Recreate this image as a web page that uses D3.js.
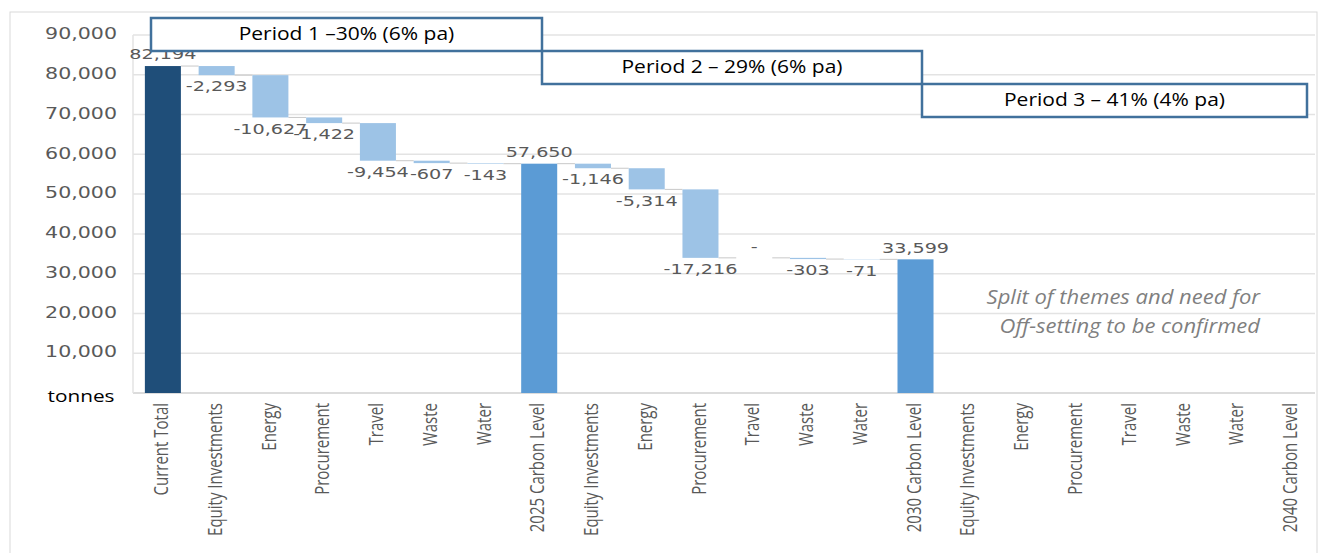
<!DOCTYPE html>
<html>
<head>
<meta charset="utf-8">
<script src="https://cdn.jsdelivr.net/npm/d3@7"></script>
<style>
  body { margin: 0; background: #fff; }
  svg { display: block; }
</style>
</head>
<body>
<svg id="chart"></svg>
<script>
const categories = [
  "Current Total", "Equity Investments", "Energy", "Procurement", "Travel", "Waste", "Water",
  "2025 Carbon Level", "Equity Investments", "Energy", "Procurement", "Travel", "Waste", "Water",
  "2030 Carbon Level", "Equity Investments", "Energy", "Procurement", "Travel", "Waste", "Water",
  "2040 Carbon Level"
];
// null = no value shown (period 3 not yet split)
const values = [
  82194, -2293, -10627, -1422, -9454, -607, -143,
  57650, -1146, -5314, -17216, 0, -303, -71,
  33599, null, null, null, null, null, null,
  null
];
const kinds = [
  "start", "delta", "delta", "delta", "delta", "delta", "delta",
  "total", "delta", "delta", "delta", "delta", "delta", "delta",
  "total", "delta", "delta", "delta", "delta", "delta", "delta",
  "total"
];
const yTicks = [10000, 20000, 30000, 40000, 50000, 60000, 70000, 80000, 90000];
const periods = [
  { label: "Period 1 \u201330% (6% pa)", from: 0, to: 7 },
  { label: "Period 2 \u2013 29% (6% pa)", from: 7, to: 14 },
  { label: "Period 3 \u2013 41% (4% pa)", from: 14, to: 21 }
];
const noteLines = ["Split of themes and need for", "Off-setting to be confirmed"];

const width = 1322, height = 553;
const svg = d3.select("#chart").attr("width", width).attr("height", height);

const stretch = 1.37; // the original picture is widened, so text is too
const colors = { start: "#1f4e79", total: "#5b9bd5", delta: "#9dc3e6" };
const fmt = d3.formatLocale({ decimal: ".", thousands: ",", grouping: [3], currency: ["", ""], minus: "-" }).format(",");

// frame
svg.append("rect")
  .attr("x", 10).attr("y", 12).attr("width", 1307).attr("height", 600)
  .attr("fill", "none").attr("stroke", "#d9d9d9");

const x = d3.scaleBand()
  .domain(d3.range(categories.length))
  .range([136, 1318.7])
  .paddingInner(0.33)
  .paddingOuter(0.165);

const y = d3.scaleLinear().domain([0, 90000]).range([393, 35]);

// gridlines
const gridLeft = 133, gridRight = 1315;
svg.append("g")
  .selectAll("line")
  .data(yTicks)
  .enter().append("line")
  .attr("x1", gridLeft).attr("x2", gridRight)
  .attr("y1", d => y(d)).attr("y2", d => y(d))
  .attr("stroke", "#e3e3e3").attr("stroke-width", 1.5);

svg.append("line")
  .attr("x1", gridLeft).attr("x2", gridRight)
  .attr("y1", y(0)).attr("y2", y(0))
  .attr("stroke", "#d0d0d0").attr("stroke-width", 1.5);
svg.append("line")
  .attr("x1", gridLeft).attr("x2", gridLeft)
  .attr("y1", y(90000)).attr("y2", y(0))
  .attr("stroke", "#e3e3e3").attr("stroke-width", 1.5);

// y tick labels
svg.append("g")
  .selectAll("text")
  .data(yTicks)
  .enter().append("text")
  .attr("transform", d => `translate(117,${y(d)}) scale(${stretch},1)`)
  .attr("text-anchor", "end")
  .attr("dominant-baseline", "middle")
  .attr("font-family", "DejaVu Sans")
  .attr("font-size", 15)
  .attr("fill", "#595959")
  .text(d => fmt(d));

svg.append("text")
  .attr("transform", `translate(81,${y(0) + 5}) scale(1.3,1)`)
  .attr("text-anchor", "middle")
  .attr("dominant-baseline", "middle")
  .attr("font-family", "Open Sans")
  .attr("font-size", 16)
  .attr("fill", "#000")
  .text("tonnes");

// waterfall geometry
let level = 0;
const bars = [];
values.forEach((v, i) => {
  if (v === null) return;
  let lo, hi;
  if (kinds[i] === "delta") {
    lo = Math.min(level, level + v);
    hi = Math.max(level, level + v);
    level = level + v;
  } else {
    lo = 0; hi = v; level = v;
  }
  bars.push({ i, v, lo, hi, end: level, kind: kinds[i] });
});

// connectors
const links = bars.slice(0, -1).map((b, k) => ({ a: b, b: bars[k + 1] }))
  .filter(d => d.b.i === d.a.i + 1);
svg.append("g")
  .selectAll("line")
  .data(links)
  .enter().append("line")
  .attr("x1", d => x(d.a.i) + x.bandwidth())
  .attr("x2", d => x(d.b.i))
  .attr("y1", d => y(d.a.end)).attr("y2", d => y(d.a.end))
  .attr("stroke", "#c8c8c8").attr("stroke-width", 1);

svg.append("g")
  .selectAll("rect")
  .data(bars)
  .enter().append("rect")
  .attr("x", d => x(d.i))
  .attr("width", x.bandwidth())
  .attr("y", d => y(d.hi))
  .attr("height", d => y(d.lo) - y(d.hi))
  .attr("fill", d => colors[d.kind]);

// data labels
svg.append("g")
  .selectAll("text")
  .data(bars)
  .enter().append("text")
  .attr("transform", d => {
    const cx = x(d.i) + x.bandwidth() / 2;
    let ly;
    if (d.kind !== "delta") ly = y(d.hi) - 11;
    else if (d.v === 0) ly = y(d.hi) - 10;
    else ly = y(d.lo) + 12;
    return `translate(${cx},${ly}) scale(${stretch},1)`;
  })
  .attr("text-anchor", "middle")
  .attr("dominant-baseline", "middle")
  .attr("font-family", "DejaVu Sans")
  .attr("font-size", 14)
  .attr("fill", "#595959")
  .text(d => d.v === 0 ? "-" : fmt(d.v));

// category labels
svg.append("g")
  .selectAll("text")
  .data(categories)
  .enter().append("text")
  .attr("transform", (d, i) => `translate(${x(i) + x.bandwidth() / 2},403) scale(1.3,1) rotate(-90)`)
  .attr("text-anchor", "end")
  .attr("dominant-baseline", "middle")
  .attr("font-family", "Open Sans")
  .attr("font-size", 15)
  .attr("fill", "#595959")
  .text(d => d);

// period boxes
const boxTop = [18, 51, 84];
const boxH = 33;
const boxX = [151, 542, 922, 1307];
const pg = svg.append("g")
  .selectAll("g")
  .data(periods)
  .enter().append("g");
pg.append("rect")
  .attr("x", (d, k) => boxX[k])
  .attr("y", (d, k) => boxTop[k])
  .attr("width", (d, k) => boxX[k + 1] - boxX[k])
  .attr("height", boxH)
  .attr("fill", "#fff")
  .attr("stroke", "#41719c")
  .attr("stroke-width", 2.5);
pg.append("text")
  .attr("transform", (d, k) => `translate(${(boxX[k] + boxX[k + 1]) / 2},${boxTop[k] + boxH / 2 + 1}) scale(1.2,1)`)
  .attr("text-anchor", "middle")
  .attr("dominant-baseline", "middle")
  .attr("font-family", "Open Sans")
  .attr("font-size", 17.5)
  .attr("fill", "#000")
  .text(d => d.label);

// note
svg.append("g")
  .selectAll("text")
  .data(noteLines)
  .enter().append("text")
  .attr("transform", (d, k) => `translate(1260,${299 + k * 29}) scale(1.1,1)`)
  .attr("text-anchor", "end")
  .attr("dominant-baseline", "middle")
  .attr("font-family", "Open Sans")
  .attr("font-style", "italic")
  .attr("font-size", 20)
  .attr("fill", "#7f7f7f")
  .text(d => d);
</script>
</body>
</html>
